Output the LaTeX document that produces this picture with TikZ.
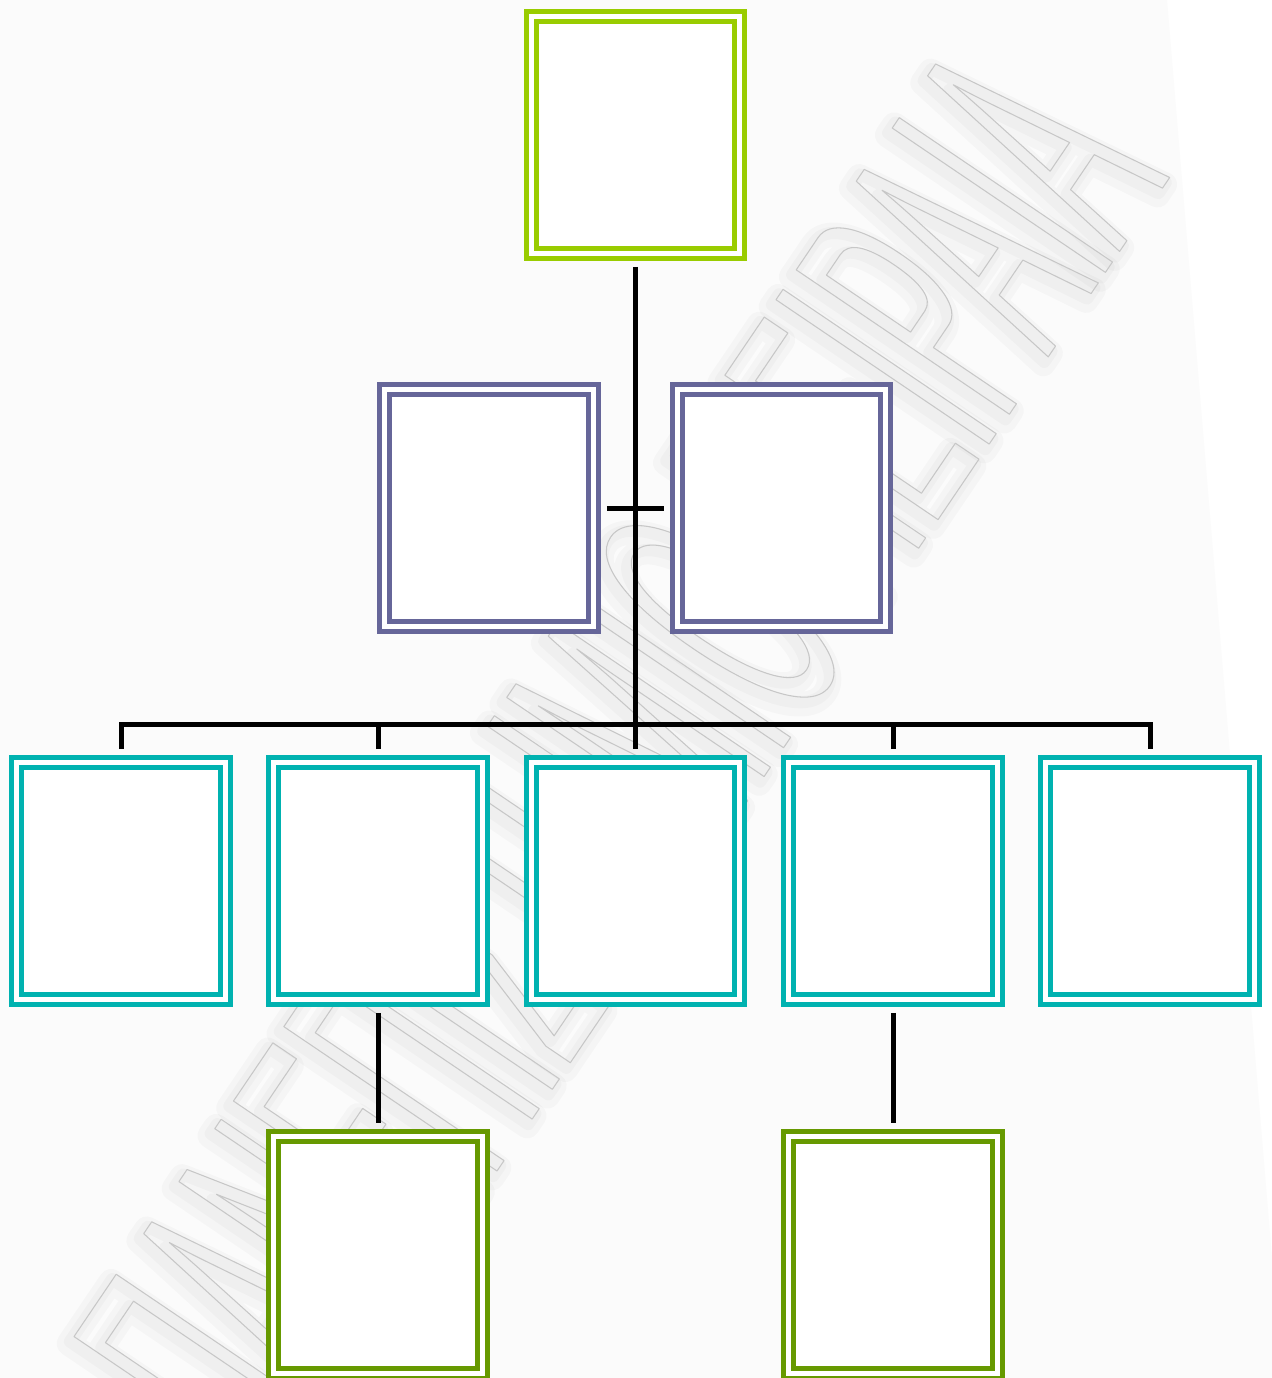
\documentclass[tikz,border=0pt]{standalone}
\usepackage{fontspec}
\newfontfamily\wmfont[FakeStretch=0.36]{Liberation Sans}
\definecolor{headgreen}{HTML}{99CC00}
\definecolor{staffpurple}{HTML}{666699}
\definecolor{unitteal}{HTML}{00B2B0}
\definecolor{subgreen}{HTML}{669900}
\newcommand\marktext[1]{\special{pdf:literal direct 1 Tr 1 j #1 w}ΠΑΝΕΠΙΣΤΗΜΙΟ ΠΕΙΡΑΙΑ\special{pdf:literal direct 0 Tr 0 j}}
\begin{document}
\begin{tikzpicture}[x=0.02cm, y=-0.02cm,
  box/.style={draw=#1, double=white, double distance=0.1cm, line width=0.1cm, fill=white,
    minimum width=4.18cm, minimum height=4.74cm, inner sep=0pt, outer sep=0.27cm},
  link/.style={line width=0.1cm},
  marktxt/.style={anchor=base east, inner sep=0pt, rotate=55.9,
    font=\wmfont\fontsize{213}{213}\selectfont}]
  \useasboundingbox (0,0) rectangle (1271,1378);
  \fill[white] (0,0) rectangle (1271,1378);
  \fill[black!1.5] (0,0) -- (1167,0) -- (1282,1378) -- (0,1378) -- cycle;
  % watermark: soft shadow, then the outlined letters
  \begin{scope}[opacity=0.022]
    \node[marktxt, text=black] (markshade) at (1165,184) {\marktext{14}};
    \node[marktxt, text=black] (markshade2) at (1166,182) {\marktext{7}};
  \end{scope}
  \node[marktxt, text=black!22] (wmark) at (1170,177) {\marktext{0.6}};
  \node[box=headgreen] (head) at (635.5,135) {};
  \node[box=staffpurple] (staffl) at (489,508) {};
  \node[box=staffpurple] (staffr) at (781.5,508) {};
  \foreach \x [count=\i] in {121,378,635.5,893,1150}
    \node[box=unitteal] (unit\i) at (\x,881) {};
  \node[box=subgreen] (sub2) at (378,1255) {};
  \node[box=subgreen] (sub4) at (893,1255) {};
  \draw[link] (head) -- (unit3);
  \draw[link] (staffl) -- (staffr);
  \draw[link] (unit1.north) -- ++(0,-25) -| (unit5.north);
  \foreach \i in {2,4}{
    \draw[link] (unit\i.north) -- ++(0,-25);
    \draw[link] (unit\i) -- (sub\i);
  }
\end{tikzpicture}
\end{document}
